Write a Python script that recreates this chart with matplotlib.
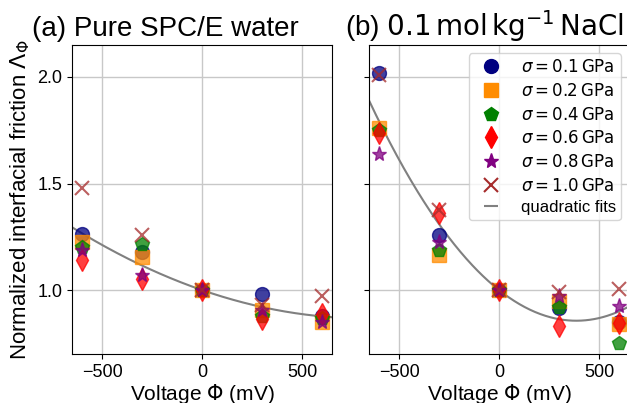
import numpy as np
import matplotlib
matplotlib.use("Agg")
import matplotlib.pyplot as plt
from matplotlib.lines import Line2D

plt.rcParams['font.family'] = ['Liberation Sans', 'DejaVu Sans']
plt.rcParams['mathtext.fontset'] = 'dejavusans'

voltage = [-600, -300, 0, 300, 600]
sigmas = ["0.1", "0.2", "0.4", "0.6", "0.8", "1.0"]
colors = ["navy", "darkorange", "green", "red", "purple", "brown"]
markers = ["o", "s", "p", "d", "*", "x"]

# (a) Pure SPC/E water
water = {
    "0.1": [1.265, 1.18, 1.0, 0.98, 0.88],
    "0.2": [1.225, 1.156, 1.0, 0.906, 0.85],
    "0.4": [1.20, 1.216, 1.0, 0.88, 0.87],
    "0.6": [1.14, 1.05, 1.0, 0.864, 0.89],
    "0.8": [1.19, 1.07, 1.0, 0.906, 0.85],
    "1.0": [1.48, 1.26, 1.0, 0.93, 0.97],
}
# (b) 0.1 mol/kg NaCl
nacl = {
    "0.1": [2.017, 1.26, 1.0, 0.914, 0.85],
    "0.2": [1.759, 1.164, 1.0, 0.95, 0.84],
    "0.4": [1.75, 1.19, 1.0, 0.92, 0.753],
    "0.6": [1.736, 1.36, 1.0, 0.83, 0.845],
    "0.8": [1.64, 1.227, 1.0, 0.97, 0.926],
    "1.0": [2.01, 1.375, 1.0, 0.99, 1.003],
}

W, H = 627, 403
fig = plt.figure(figsize=(W / 100, H / 100), dpi=100)
ax1 = fig.add_axes([72 / W, (H - 354) / H, 260 / W, 309 / H])
ax2 = fig.add_axes([369 / W, (H - 354) / H, 260 / W, 309 / H], sharey=ax1)


def quad_fit(data):
    xs = np.array(voltage * len(sigmas), dtype=float)
    ys = np.concatenate([np.array(data[s], dtype=float) for s in sigmas])
    A = np.vstack([xs, xs ** 2]).T
    coef, *_ = np.linalg.lstsq(A, ys - 1.0, rcond=None)
    return coef


for ax, data in [(ax1, water), (ax2, nacl)]:
    ax.set_axisbelow(True)
    ax.grid(True, color='#c8c8c8', lw=1.0)
    for s, c, m in zip(sigmas, colors, markers):
        kw = dict(ls='none', marker=m, color=c, alpha=0.75, ms=10)
        if m == 'x':
            kw.update(mew=1.5, ms=10)
        if m == '*':
            kw.update(ms=11)
        if m == 'd':
            kw.update(ms=11)
        ax.plot(voltage, data[s], **kw)
    a, b = quad_fit(data)
    xf = np.linspace(-650, 650, 300)
    ax.plot(xf, 1 + a * xf + b * xf ** 2, color='gray', lw=1.5, zorder=1.5)
    ax.set_xlim(-650, 650)
    ax.set_xticks([-500, 0, 500])
    ax.tick_params(labelsize=13)
    ax.set_xlabel(r'Voltage $\Phi$ (mV)', fontsize=15, labelpad=1)

ax1.set_ylim(0.7, 2.15)
ax1.set_yticks([1.0, 1.5, 2.0])
ax2.tick_params(labelleft=False)
ax1.set_ylabel(r'Normalized interfacial friction $\Lambda_\Phi$', fontsize=16)

handles = []
for s, c, m in zip(sigmas, colors, markers):
    kw = dict(ls='none', marker=m, color=c, ms=10)
    if m == 'x':
        kw.update(mew=1.5)
    if m in ('*', 'd'):
        kw.update(ms=11)
    handles.append(Line2D([], [], label=r'$\sigma = %s\,\mathrm{GPa}$' % s, **kw))
handles.append(Line2D([], [], ls='none', marker='_', color='gray', ms=10, mew=1.5,
                      label='quadratic fits'))
ax2.legend(handles=handles, loc='upper right', fontsize=12, handlelength=2.0,
           handletextpad=0.8, labelspacing=0.4, borderpad=0.3, framealpha=0.8,
           numpoints=1)

fig.text(32 / W, (H - 35.5) / H, '(a) Pure SPC/E water', fontsize=20, va='baseline', ha='left')
fig.text(345 / W, (H - 35.5) / H, r'(b) $0.1\,\mathrm{mol\,kg^{-1}\,NaCl}$', fontsize=20,
         va='baseline', ha='left')

fig.savefig('out.png', dpi=100)
